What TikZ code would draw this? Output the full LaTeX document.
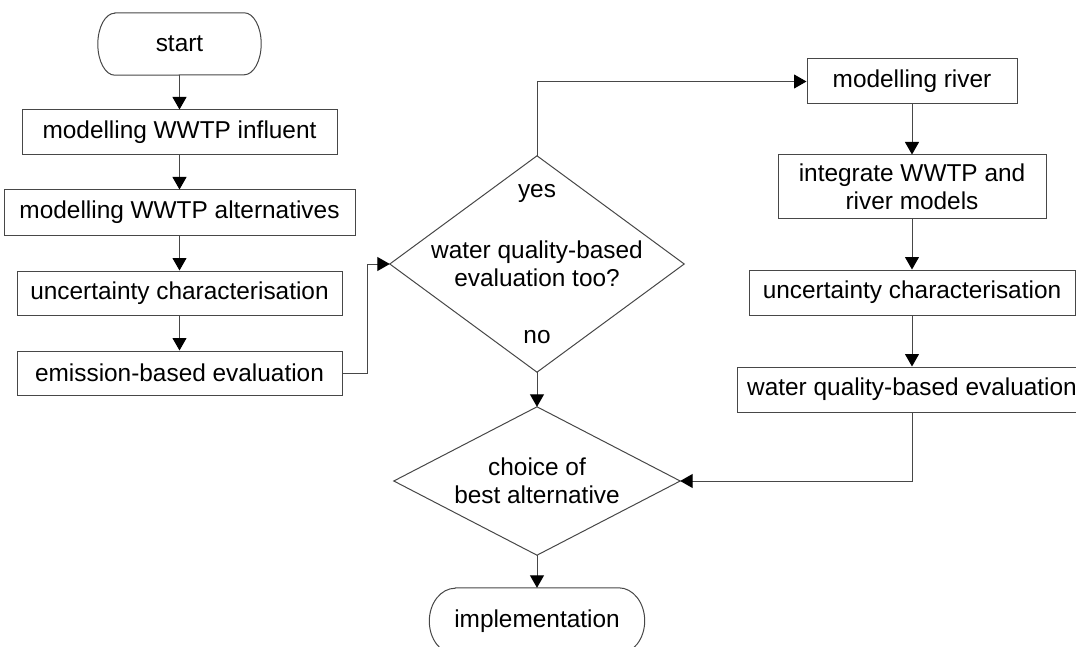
\documentclass[tikz,border=0pt]{standalone}
\usepackage{fontspec}
\setmainfont{Liberation Sans}
\usetikzlibrary{arrows.meta,calc}
\begin{document}
\begin{tikzpicture}[x=1pt,y=-1pt,
  every node/.style={font=\fontsize{24.4}{28}\selectfont, inner sep=0pt, align=center},
  ln/.style={draw=black!72, line width=1pt},
  stepbox/.style={ln, rectangle, minimum height=45pt},
  hold/.style={draw=none, rectangle},
  flow/.style={ln, -{Triangle[length=12.5pt,width=14pt,color=black]}},
  lbl/.style={}
]
\useasboundingbox (0,0) rectangle (1076,647);
\clip (0,0) rectangle (1076,647);

% left column
\node[hold, minimum width=163pt, minimum height=62pt] (start) at (179.5,44) {start};
\draw[ln] ($(start.north west)+(17pt,0pt)$) -- ($(start.north east)+(-17pt,0pt)$)
  arc[start angle=90,end angle=-90,x radius=17pt,y radius=31pt]
  -- ($(start.south west)+(17pt,0pt)$)
  arc[start angle=270,end angle=90,x radius=17pt,y radius=31pt] -- cycle;

\node[stepbox, minimum width=315pt] (b1) at (179.5,132.5) {modelling WWTP influent};
\node[stepbox, minimum width=351pt] (b2) at (179.5,212.5) {modelling WWTP alternatives};
\node[stepbox, minimum width=325pt, minimum height=44pt] (b3) at (179.5,293) {uncertainty characterisation};
\node[stepbox, minimum width=325pt, minimum height=44pt] (b4) at (179.5,373) {emission-based evaluation};

% decision 1
\node[hold, minimum width=294pt, minimum height=216pt] (d1) at (537,264) {water quality-based\\evaluation too?};
\draw[ln] (d1.north) -- (d1.east) -- (d1.south) -- (d1.west) -- cycle;
\node[lbl] (yes) at (537,193) {yes};
\node[lbl] (no) at (537,337) {no};

% right column
\node[stepbox, minimum width=210pt] (r1) at (912,81.5) {modelling river};
\node[stepbox, minimum width=268pt, minimum height=64pt] (r2) at (912,187) {integrate WWTP and\\river models};
\node[stepbox, minimum width=326pt] (r3) at (912,292.5) {uncertainty characterisation};
\node[stepbox, minimum width=350pt] (r4) at (912,389.5) {water quality-based evaluation};

% decision 2
\node[hold, minimum width=286pt, minimum height=148pt] (d2) at (537,481) {choice of\\best alternative};
\draw[ln] (d2.north) -- (d2.east) -- (d2.south) -- (d2.west) -- cycle;

% implementation
\node[hold, minimum width=215pt, minimum height=66pt] (impl) at (537,621) {implementation};
\draw[ln] ($(impl.north west)+(26pt,0pt)$) -- ($(impl.north east)+(-26pt,0pt)$)
  arc[start angle=90,end angle=-90,x radius=26pt,y radius=33pt]
  -- ($(impl.south west)+(26pt,0pt)$)
  arc[start angle=270,end angle=90,x radius=26pt,y radius=33pt] -- cycle;

% connectors
\draw[flow] (start.south) -- (b1.north);
\draw[flow] (b1.south) -- (b2.north);
\draw[flow] (b2.south) -- (b3.north);
\draw[flow] (b3.south) -- (b4.north);
\draw[flow] (b4.east) -- ++(25,0) |- (d1.west);
\draw[flow] (d1.north) |- (r1.west);
\draw[flow] (r1.south) -- (r2.north);
\draw[flow] (r2.south) -- (r3.north);
\draw[flow] (r3.south) -- (r4.north);
\draw[flow] (d1.south) -- (d2.north);
\draw[flow] (r4.south) |- (d2.east);
\draw[flow] (d2.south) -- (impl.north);
\end{tikzpicture}
\end{document}
